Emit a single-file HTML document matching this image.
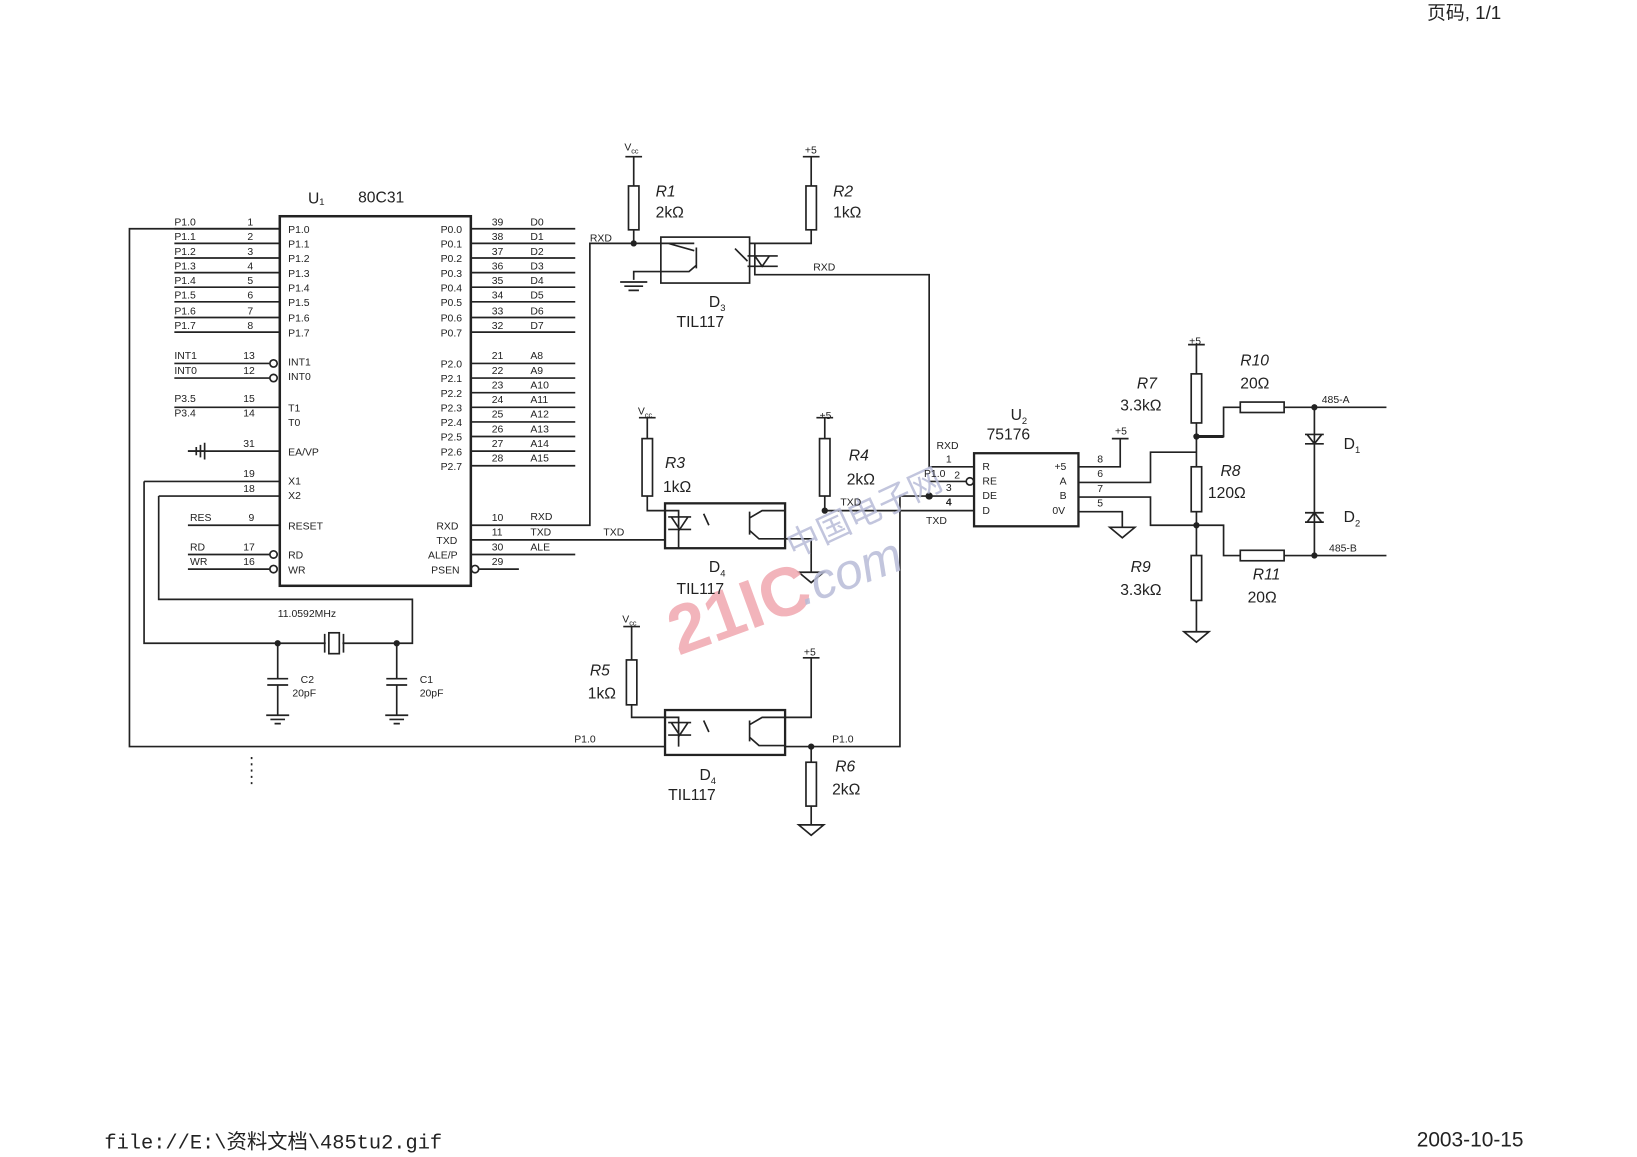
<!DOCTYPE html>
<html><head><meta charset="utf-8"><style>
html,body{margin:0;padding:0;background:#fff;}
svg{display:block}
text{font-family:"Liberation Sans","Noto Sans CJK SC",sans-serif;fill:#222;}
.s{font-size:10px}
.m{font-size:15px}
.i{font-size:15px;font-style:italic}
</style></head><body>
<svg width="1637" height="1157" viewBox="0 0 1568 1108" xmlns="http://www.w3.org/2000/svg">
<g stroke="#222" stroke-width="1.6" fill="none">
<!-- U1 -->
<rect x="268" y="207" width="183" height="354" stroke-width="2.4"/>
<path d="M167 219H268M167 233H268M167 247H268M167 261H268M167 275H268M167 289H268M167 304H268M167 318H268"/>
<path d="M167 348H258M167 362H258M167 390H268M180 432H268M138 461H268M152 475H268M180 503H268M180 531H258M180 545H258"/>
<circle cx="262" cy="348" r="3.5"/><circle cx="262" cy="362" r="3.5"/><circle cx="262" cy="531" r="3.5"/><circle cx="262" cy="545" r="3.5"/>
<path d="M451 219H551M451 233H551M451 247H551M451 261H551M451 275H551M451 289H551M451 304H551M451 318H551"/>
<path d="M451 348H551M451 362H551M451 376H551M451 390H551M451 404H551M451 418H551M451 432H551M451 446H551"/>
<path d="M451 503H565V233H633M451 517H637M451 531H551M459 545H497"/>
<circle cx="455" cy="545" r="3.5"/>
<path d="M196 424V440M192 426V438M188 428V436M196 432H180" />
<!-- left wire P1.0 -->
<path d="M268 219H124V715H637M752 715H862V475H933"/>
<!-- crystal -->
<path d="M138 461V616H312M328 616H395V574H152V475"/>
<rect x="315" y="606" width="10" height="20"/><path d="M311 607V625M329 607V625"/>
<path d="M266 616V650M256 650H276M256 656H276M266 656V685M255 685H277M259 689H273M263 693H269"/>
<path d="M380 616V650M370 650H390M370 656H390M380 656V685M369 685H391M373 689H387M377 693H383"/>
<path d="M241 725V752" stroke-dasharray="2 4"/>
<!-- D3 -->
<rect x="633" y="227" width="85" height="44"/>
<path d="M607 150V178M599 150H615M607 220V233"/><rect x="602" y="178" width="10" height="42"/>
<path d="M777 150V178M769 150H785M777 220V233H718"/><rect x="772" y="178" width="10" height="42"/>
<path d="M633 233H665M667 237V257M665 240L640 233M667 254L660 260H607V268M594 270H620M598 274H616M602 278H612"/>
<path d="M723 233V263H890V447H933M716 245H745M723 245L730 255L737 245M716 255H745"/>
<path d="M704 238L712 246M709 243L716 250"/>
<!-- D4 -->
<rect x="637" y="482" width="115" height="43" stroke-width="2.2"/>
<path d="M620 400V420M612 400H628M620 475V489H650V525M640 495H662M643 495L651 507L659 495M640 507H662M674 492L679 503"/><rect x="615" y="420" width="10" height="55"/>
<path d="M790 400V420M782 400H798M790 475V489H933M752 489H730L718 496M718 490V512M718 508L727 516H777V548M765 548H789L777 558Z"/><rect x="785" y="420" width="10" height="55"/>
<!-- D4 bottom -->
<rect x="637" y="680" width="115" height="43" stroke-width="2.2"/>
<path d="M605 600V632M597 600H613M605 675V687H650V715M640 692H662M643 692L651 704L659 692M640 704H662M674 690L679 701"/><rect x="600" y="632" width="10" height="43"/>
<path d="M777 630V687H730L718 694M718 690V710M718 706L727 714H752M777 715V730M777 772V790M765 790H789L777 800Z"/><rect x="772" y="730" width="10" height="42"/>
<path d="M769 630H785"/>
<!-- U2 -->
<rect x="933" y="434" width="100" height="70" stroke-width="2.2"/>
<path d="M890 461H925"/><circle cx="929" cy="461" r="3.5"/>
<path d="M1033 447H1073V420M1065 420H1081"/>
<path d="M1033 462H1102V433H1146M1033 476H1102V503H1146M1033 490H1075V505M1063 505H1087L1075 515Z"/>
<path d="M1146 330V358M1138 330H1154M1146 405V447M1146 490V532M1146 575V605M1134 605H1158L1146 615Z"/>
<rect x="1141" y="358" width="10" height="47"/><rect x="1141" y="447" width="10" height="43"/><rect x="1141" y="532" width="10" height="43"/>
<path d="M1146 418H1172V390H1188M1230 390H1328M1146 503H1172V532H1188M1230 532H1328" />
<path d="M1146 418H1172" stroke-width="2.8"/>
<rect x="1188" y="385" width="42" height="10"/><rect x="1188" y="527" width="42" height="10"/>
<path d="M1259 390V532M1250 416H1268M1252 416L1259 425L1266 416M1250 425H1268M1250 500H1268M1252 500L1259 491L1266 500M1250 491H1268"/>
</g>
<g fill="#222">
<circle cx="607" cy="233" r="3"/><circle cx="790" cy="489" r="3"/><circle cx="777" cy="715" r="3"/><circle cx="890" cy="475" r="3.5"/>
<circle cx="266" cy="616" r="3"/><circle cx="380" cy="616" r="3"/><circle cx="1146" cy="418" r="3"/><circle cx="1146" cy="503" r="3"/>
<circle cx="1259" cy="390" r="3"/><circle cx="1259" cy="532" r="3"/>
</g>
<!-- watermark -->
<text x="650" y="628" font-size="66" font-weight="bold" style="fill:#f0a8b0" opacity="0.85" transform="rotate(-20 650 628)">21IC</text>
<text x="770" y="580" font-size="48" font-style="italic" style="fill:#b8bcd8" opacity="0.85" transform="rotate(-20 770 580)">.com</text>
<text x="760" y="535" font-size="32" style="fill:#b8bcd8" opacity="0.85" transform="rotate(-25 760 535)">中国电子网</text>
<!-- labels U1 -->
<text x="295" y="195" class="m">U₁</text><text x="343" y="194" class="m">80C31</text>
<g class="s">
<text x="167" y="216">P1.0</text><text x="167" y="230">P1.1</text><text x="167" y="244">P1.2</text><text x="167" y="258">P1.3</text><text x="167" y="272">P1.4</text><text x="167" y="286">P1.5</text><text x="167" y="301">P1.6</text><text x="167" y="315">P1.7</text>
<text x="237" y="216">1</text><text x="237" y="230">2</text><text x="237" y="244">3</text><text x="237" y="258">4</text><text x="237" y="272">5</text><text x="237" y="286">6</text><text x="237" y="301">7</text><text x="237" y="315">8</text>
<text x="276" y="223">P1.0</text><text x="276" y="237">P1.1</text><text x="276" y="251">P1.2</text><text x="276" y="265">P1.3</text><text x="276" y="279">P1.4</text><text x="276" y="293">P1.5</text><text x="276" y="308">P1.6</text><text x="276" y="322">P1.7</text>
<text x="167" y="344">INT1</text><text x="167" y="358">INT0</text><text x="233" y="344">13</text><text x="233" y="358">12</text>
<text x="276" y="350">INT1</text><text x="276" y="364">INT0</text>
<text x="167" y="385">P3.5</text><text x="167" y="399">P3.4</text><text x="233" y="385">15</text><text x="233" y="399">14</text>
<text x="276" y="394">T1</text><text x="276" y="408">T0</text>
<text x="233" y="428">31</text><text x="276" y="436">EA/VP</text>
<text x="233" y="457">19</text><text x="233" y="471">18</text><text x="276" y="464">X1</text><text x="276" y="478">X2</text>
<text x="182" y="499">RES</text><text x="238" y="499">9</text><text x="276" y="507">RESET</text>
<text x="182" y="527">RD</text><text x="182" y="541">WR</text><text x="233" y="527">17</text><text x="233" y="541">16</text>
<text x="276" y="535">RD</text><text x="276" y="549">WR</text>
<text x="422" y="223">P0.0</text><text x="422" y="237">P0.1</text><text x="422" y="251">P0.2</text><text x="422" y="265">P0.3</text><text x="422" y="279">P0.4</text><text x="422" y="293">P0.5</text><text x="422" y="308">P0.6</text><text x="422" y="322">P0.7</text>
<text x="471" y="216">39</text><text x="471" y="230">38</text><text x="471" y="244">37</text><text x="471" y="258">36</text><text x="471" y="272">35</text><text x="471" y="286">34</text><text x="471" y="301">33</text><text x="471" y="315">32</text>
<text x="508" y="216">D0</text><text x="508" y="230">D1</text><text x="508" y="244">D2</text><text x="508" y="258">D3</text><text x="508" y="272">D4</text><text x="508" y="286">D5</text><text x="508" y="301">D6</text><text x="508" y="315">D7</text>
<text x="422" y="352">P2.0</text><text x="422" y="366">P2.1</text><text x="422" y="380">P2.2</text><text x="422" y="394">P2.3</text><text x="422" y="408">P2.4</text><text x="422" y="422">P2.5</text><text x="422" y="436">P2.6</text><text x="422" y="450">P2.7</text>
<text x="471" y="344">21</text><text x="471" y="358">22</text><text x="471" y="372">23</text><text x="471" y="386">24</text><text x="471" y="400">25</text><text x="471" y="414">26</text><text x="471" y="428">27</text><text x="471" y="442">28</text>
<text x="508" y="344">A8</text><text x="508" y="358">A9</text><text x="508" y="372">A10</text><text x="508" y="386">A11</text><text x="508" y="400">A12</text><text x="508" y="414">A13</text><text x="508" y="428">A14</text><text x="508" y="442">A15</text>
<text x="418" y="507">RXD</text><text x="418" y="521">TXD</text><text x="410" y="535">ALE/P</text><text x="413" y="549">PSEN</text>
<text x="471" y="499">10</text><text x="471" y="513">11</text><text x="471" y="527">30</text><text x="471" y="541">29</text>
<text x="508" y="498">RXD</text><text x="508" y="513">TXD</text><text x="508" y="527">ALE</text>
<text x="266" y="591">11.0592MHz</text>
<text x="288" y="654">C2</text><text x="280" y="667">20pF</text><text x="402" y="654">C1</text><text x="402" y="667">20pF</text>
<text x="565" y="231">RXD</text><text x="779" y="259">RXD</text><text x="578" y="513">TXD</text><text x="805" y="484">TXD</text>
<text x="550" y="711">P1.0</text><text x="797" y="711">P1.0</text>
<text x="598" y="144">V<tspan font-size="7" dy="3">cc</tspan></text><text x="771" y="147">+5</text>
<text x="611" y="397">V<tspan font-size="7" dy="3">cc</tspan></text><text x="785" y="401">+5</text>
<text x="596" y="596">V<tspan font-size="7" dy="3">cc</tspan></text><text x="770" y="628">+5</text>
<text x="897" y="430">RXD</text><text x="906" y="443">1</text><text x="885" y="457">P1.0</text><text x="914" y="458">2</text><text x="906" y="470">3</text><text x="906" y="484" font-weight="bold">4</text><text x="887" y="502">TXD</text>
<text x="941" y="450">R</text><text x="941" y="464">RE</text><text x="941" y="478">DE</text><text x="941" y="492">D</text>
<text x="1010" y="450">+5</text><text x="1015" y="464">A</text><text x="1015" y="478">B</text><text x="1008" y="492">0V</text>
<text x="1051" y="443">8</text><text x="1051" y="457">6</text><text x="1051" y="471">7</text><text x="1051" y="485">5</text>
<text x="1068" y="416">+5</text><text x="1139" y="330">+5</text>
<text x="1266" y="386">485-A</text><text x="1273" y="528">485-B</text>
</g>
<g>
<text x="628" y="188" class="i">R1</text><text x="628" y="208" class="m">2kΩ</text>
<text x="798" y="188" class="i">R2</text><text x="798" y="208" class="m">1kΩ</text>
<text x="679" y="294" class="m">D<tspan font-size="9" dy="4">3</tspan></text><text x="648" y="313" class="m">TIL117</text>
<text x="637" y="448" class="i">R3</text><text x="635" y="471" class="m">1kΩ</text>
<text x="813" y="441" class="i">R4</text><text x="811" y="464" class="m">2kΩ</text>
<text x="679" y="548" class="m">D<tspan font-size="9" dy="4">4</tspan></text><text x="648" y="569" class="m">TIL117</text>
<text x="565" y="647" class="i">R5</text><text x="563" y="669" class="m">1kΩ</text>
<text x="670" y="747" class="m">D<tspan font-size="9" dy="4">4</tspan></text><text x="640" y="766" class="m">TIL117</text>
<text x="800" y="739" class="i">R6</text><text x="797" y="761" class="m">2kΩ</text>
<text x="968" y="402" class="m">U<tspan font-size="9" dy="4">2</tspan></text><text x="945" y="421" class="m">75176</text>
<text x="1089" y="372" class="i">R7</text><text x="1073" y="393" class="m">3.3kΩ</text>
<text x="1188" y="350" class="i">R10</text><text x="1188" y="372" class="m">20Ω</text>
<text x="1287" y="430" class="m">D<tspan font-size="9" dy="4">1</tspan></text>
<text x="1169" y="456" class="i">R8</text><text x="1157" y="477" class="m">120Ω</text>
<text x="1287" y="500" class="m">D<tspan font-size="9" dy="4">2</tspan></text>
<text x="1083" y="548" class="i">R9</text><text x="1073" y="570" class="m">3.3kΩ</text>
<text x="1200" y="555" class="i">R11</text><text x="1195" y="577" class="m">20Ω</text>
<text x="1367" y="18" font-size="18">页码, 1/1</text>
<text x="100" y="1100" font-size="19.5" style="font-family:'Liberation Mono','Noto Sans CJK SC',monospace">file://E:\资料文档\485tu2.gif</text>
<text x="1357" y="1098" font-size="20">2003-10-15</text>
</g>
</svg>
</body></html>
